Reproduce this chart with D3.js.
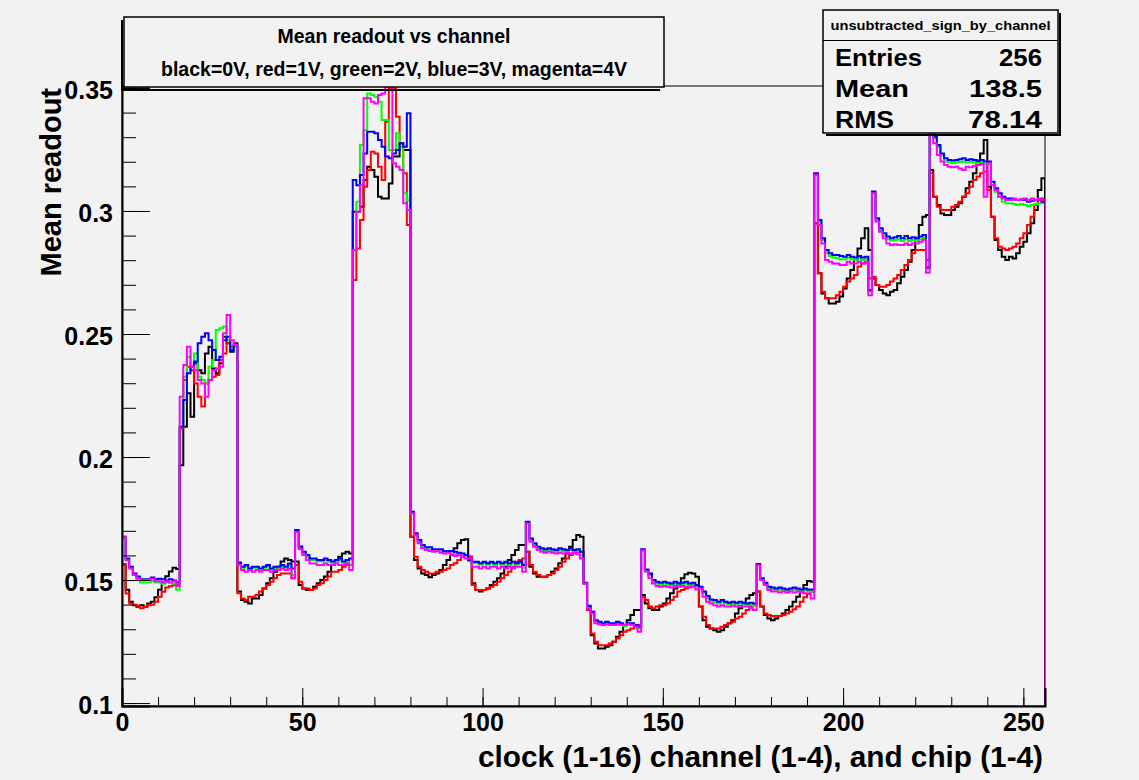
<!DOCTYPE html>
<html>
<head>
<meta charset="utf-8">
<script src="https://cdn.jsdelivr.net/npm/d3@7"></script>
<style>
  html, body { margin: 0; padding: 0; background: #f2f2f2; }
  svg text { font-family: "Liberation Sans", Arial, Helvetica, sans-serif; font-weight: bold; }
</style>
</head>
<body>
<div id="chart"></div>
<script>
// mean readout per bin (256 bins = 16 clocks x 4 channels x 4 chips), one array per voltage
const black = [
  0.1564,0.1460,0.1412,0.1398,0.1391,0.1398,0.1391,0.1405,0.1412,0.1430,0.1460,0.1490,0.1515,0.1535,0.1550,0.1545,
  0.1967,0.2123,0.2259,0.2164,0.2381,0.2353,0.2340,0.2421,0.2448,0.2360,0.2340,0.2381,0.2489,0.2462,0.2428,0.2462,
  0.1453,0.1419,0.1412,0.1405,0.1425,0.1425,0.1439,0.1466,0.1487,0.1507,0.1534,0.1554,0.1575,0.1588,0.1581,0.1575,
  0.1575,0.1480,0.1466,0.1459,0.1459,0.1473,0.1487,0.1500,0.1514,0.1534,0.1561,0.1575,0.1595,0.1608,0.1615,0.1608,
  0.2997,0.2997,0.3017,0.3126,0.3180,0.3167,0.3139,0.3058,0.3051,0.3051,0.3112,0.3221,0.3221,0.3275,0.3248,0.3248,
  0.1676,0.1581,0.1547,0.1527,0.1520,0.1511,0.1520,0.1527,0.1541,0.1561,0.1581,0.1602,0.1629,0.1649,0.1663,0.1666,
  0.1595,0.1487,0.1459,0.1453,0.1459,0.1466,0.1480,0.1493,0.1507,0.1527,0.1554,0.1581,0.1602,0.1622,0.1642,0.1642,
  0.1615,0.1554,0.1527,0.1513,0.1513,0.1513,0.1520,0.1534,0.1547,0.1568,0.1588,0.1608,0.1635,0.1663,0.1683,0.1676,
  0.1486,0.1378,0.1276,0.1242,0.1222,0.1222,0.1229,0.1235,0.1249,0.1269,0.1290,0.1317,0.1337,0.1358,0.1378,0.1378,
  0.1439,0.1405,0.1385,0.1378,0.1378,0.1392,0.1405,0.1425,0.1446,0.1466,0.1486,0.1507,0.1523,0.1530,0.1527,0.1513,
  0.1392,0.1337,0.1310,0.1303,0.1296,0.1290,0.1296,0.1310,0.1324,0.1337,0.1364,0.1385,0.1405,0.1425,0.1439,0.1446,
  0.1453,0.1392,0.1358,0.1344,0.1337,0.1344,0.1354,0.1364,0.1378,0.1392,0.1412,0.1432,0.1453,0.1480,0.1496,0.1493,
  0.2950,0.2747,0.2665,0.2645,0.2624,0.2624,0.2631,0.2652,0.2685,0.2726,0.2760,0.2801,0.2848,0.2889,0.2930,0.2841,
  0.2726,0.2699,0.2679,0.2665,0.2658,0.2672,0.2679,0.2706,0.2733,0.2760,0.2794,0.2841,0.2889,0.2943,0.2977,0.2984,
  0.3167,0.3058,0.3024,0.2990,0.2984,0.2984,0.3004,0.3017,0.3031,0.3058,0.3092,0.3119,0.3153,0.3201,0.3234,0.3289,
  0.3099,0.2977,0.2882,0.2841,0.2814,0.2801,0.2814,0.2807,0.2828,0.2855,0.2875,0.2909,0.2950,0.3004,0.3085,0.3133
];
const red = [
  0.1564,0.1445,0.1405,0.1400,0.1395,0.1385,0.1390,0.1398,0.1400,0.1412,0.1432,0.1452,0.1470,0.1475,0.1480,0.1480,
  0.2116,0.2313,0.2367,0.2353,0.2299,0.2245,0.2205,0.2299,0.2313,0.2326,0.2333,0.2394,0.2421,0.2462,0.2448,0.2448,
  0.1446,0.1425,0.1419,0.1432,0.1432,0.1439,0.1453,0.1466,0.1480,0.1493,0.1507,0.1520,0.1527,0.1527,0.1527,0.1507,
  0.1561,0.1493,0.1466,0.1466,0.1459,0.1466,0.1480,0.1487,0.1500,0.1514,0.1534,0.1534,0.1541,0.1554,0.1561,0.1561,
  0.2719,0.2848,0.2963,0.3099,0.3167,0.3241,0.3234,0.3180,0.3126,0.3363,0.3498,0.3498,0.3383,0.3275,0.3153,0.2943,
  0.1676,0.1595,0.1554,0.1541,0.1534,0.1527,0.1527,0.1534,0.1534,0.1541,0.1547,0.1561,0.1568,0.1581,0.1595,0.1602,
  0.1595,0.1480,0.1459,0.1459,0.1459,0.1466,0.1473,0.1480,0.1493,0.1507,0.1520,0.1534,0.1554,0.1574,0.1581,0.1588,
  0.1615,0.1561,0.1534,0.1520,0.1513,0.1513,0.1520,0.1527,0.1541,0.1554,0.1574,0.1588,0.1602,0.1608,0.1615,0.1615,
  0.1486,0.1378,0.1283,0.1249,0.1235,0.1235,0.1235,0.1242,0.1249,0.1262,0.1276,0.1290,0.1296,0.1303,0.1310,0.1317,
  0.1432,0.1419,0.1392,0.1385,0.1392,0.1398,0.1398,0.1405,0.1419,0.1432,0.1453,0.1459,0.1466,0.1476,0.1476,0.1473,
  0.1392,0.1351,0.1317,0.1303,0.1303,0.1303,0.1310,0.1317,0.1324,0.1330,0.1344,0.1351,0.1364,0.1378,0.1392,0.1398,
  0.1453,0.1392,0.1364,0.1358,0.1354,0.1354,0.1354,0.1358,0.1364,0.1371,0.1381,0.1392,0.1412,0.1430,0.1443,0.1453,
  0.2950,0.2747,0.2672,0.2645,0.2645,0.2645,0.2658,0.2672,0.2692,0.2713,0.2726,0.2740,0.2774,0.2787,0.2790,0.2726,
  0.2733,0.2699,0.2692,0.2692,0.2699,0.2713,0.2726,0.2740,0.2760,0.2780,0.2801,0.2828,0.2841,0.2841,0.2841,0.2801,
  0.3153,0.3058,0.3017,0.3004,0.3004,0.3004,0.3017,0.3024,0.3038,0.3058,0.3072,0.3099,0.3126,0.3140,0.3153,0.3160,
  0.3085,0.2977,0.2889,0.2855,0.2848,0.2841,0.2848,0.2855,0.2868,0.2889,0.2909,0.2943,0.2977,0.3024,0.3045,0.3051
];
const green = [
  0.1670,0.1580,0.1550,0.1520,0.1505,0.1490,0.1490,0.1490,0.1495,0.1490,0.1490,0.1485,0.1490,0.1490,0.1485,0.1460,
  0.2123,0.2326,0.2408,0.2367,0.2421,0.2326,0.2313,0.2299,0.2367,0.2394,0.2516,0.2523,0.2530,0.2475,0.2435,0.2448,
  0.1567,0.1550,0.1556,0.1542,0.1550,0.1550,0.1542,0.1550,0.1556,0.1542,0.1550,0.1550,0.1556,0.1550,0.1560,0.1520,
  0.1695,0.1630,0.1610,0.1595,0.1580,0.1580,0.1575,0.1575,0.1580,0.1575,0.1570,0.1575,0.1580,0.1570,0.1575,0.1560,
  0.2841,0.3038,0.3268,0.3329,0.3478,0.3471,0.3464,0.3444,0.3370,0.3370,0.3248,0.3248,0.3316,0.3261,0.3072,0.3044,
  0.1770,0.1685,0.1656,0.1635,0.1625,0.1622,0.1618,0.1618,0.1615,0.1611,0.1611,0.1608,0.1605,0.1602,0.1598,0.1592,
  0.1576,0.1568,0.1568,0.1562,0.1568,0.1562,0.1568,0.1562,0.1568,0.1562,0.1568,0.1562,0.1568,0.1562,0.1568,0.1550,
  0.1733,0.1662,0.1642,0.1628,0.1622,0.1618,0.1622,0.1618,0.1615,0.1622,0.1618,0.1615,0.1622,0.1615,0.1618,0.1600,
  0.1486,0.1390,0.1366,0.1333,0.1326,0.1320,0.1326,0.1320,0.1320,0.1326,0.1320,0.1313,0.1320,0.1320,0.1313,0.1303,
  0.1620,0.1538,0.1520,0.1493,0.1486,0.1482,0.1486,0.1482,0.1480,0.1486,0.1480,0.1482,0.1486,0.1480,0.1482,0.1470,
  0.1470,0.1446,0.1426,0.1414,0.1410,0.1405,0.1410,0.1405,0.1402,0.1405,0.1402,0.1405,0.1402,0.1400,0.1400,0.1396,
  0.1562,0.1503,0.1484,0.1466,0.1462,0.1460,0.1460,0.1460,0.1456,0.1460,0.1462,0.1460,0.1456,0.1458,0.1455,0.1450,
  0.3150,0.2957,0.2882,0.2830,0.2817,0.2811,0.2808,0.2804,0.2804,0.2811,0.2804,0.2801,0.2808,0.2801,0.2804,0.2672,
  0.3072,0.2963,0.2920,0.2900,0.2885,0.2880,0.2882,0.2886,0.2878,0.2886,0.2878,0.2882,0.2878,0.2885,0.2890,0.2765,
  0.3390,0.3295,0.3260,0.3225,0.3201,0.3197,0.3194,0.3197,0.3199,0.3201,0.3197,0.3199,0.3197,0.3194,0.3197,0.3190,
  0.3190,0.3106,0.3078,0.3058,0.3038,0.3031,0.3031,0.3028,0.3024,0.3028,0.3024,0.3020,0.3024,0.3028,0.3031,0.3031
];
const blue = [
  0.1676,0.1588,0.1554,0.1527,0.1514,0.1503,0.1503,0.1503,0.1510,0.1503,0.1505,0.1503,0.1498,0.1503,0.1498,0.1490,
  0.2123,0.2232,0.2340,0.2367,0.2388,0.2462,0.2489,0.2503,0.2475,0.2435,0.2394,0.2408,0.2475,0.2489,0.2435,0.2455,
  0.1571,0.1554,0.1561,0.1547,0.1554,0.1554,0.1547,0.1554,0.1561,0.1547,0.1554,0.1554,0.1561,0.1554,0.1567,0.1547,
  0.1703,0.1636,0.1615,0.1602,0.1588,0.1588,0.1581,0.1581,0.1588,0.1581,0.1575,0.1581,0.1588,0.1575,0.1581,0.1588,
  0.3126,0.3105,0.3146,0.3234,0.3322,0.3322,0.3316,0.3289,0.3261,0.3221,0.3214,0.3234,0.3248,0.3275,0.3261,0.3397,
  0.1778,0.1690,0.1663,0.1642,0.1633,0.1633,0.1625,0.1625,0.1625,0.1618,0.1618,0.1618,0.1615,0.1611,0.1608,0.1602,
  0.1581,0.1574,0.1574,0.1568,0.1574,0.1568,0.1574,0.1568,0.1574,0.1568,0.1574,0.1568,0.1574,0.1568,0.1574,0.1561,
  0.1737,0.1669,0.1649,0.1635,0.1629,0.1625,0.1629,0.1625,0.1622,0.1629,0.1625,0.1622,0.1629,0.1622,0.1625,0.1615,
  0.1489,0.1395,0.1371,0.1337,0.1330,0.1324,0.1330,0.1324,0.1324,0.1330,0.1324,0.1317,0.1324,0.1324,0.1317,0.1310,
  0.1625,0.1543,0.1527,0.1500,0.1493,0.1489,0.1493,0.1489,0.1486,0.1493,0.1486,0.1489,0.1493,0.1486,0.1489,0.1480,
  0.1473,0.1453,0.1435,0.1421,0.1419,0.1412,0.1419,0.1412,0.1408,0.1412,0.1408,0.1412,0.1408,0.1405,0.1408,0.1405,
  0.1565,0.1507,0.1489,0.1473,0.1470,0.1466,0.1470,0.1466,0.1462,0.1466,0.1470,0.1466,0.1462,0.1466,0.1462,0.1462,
  0.3153,0.2963,0.2889,0.2841,0.2828,0.2821,0.2821,0.2817,0.2814,0.2821,0.2814,0.2811,0.2817,0.2811,0.2814,0.2679,
  0.3079,0.2970,0.2930,0.2909,0.2896,0.2889,0.2893,0.2898,0.2889,0.2898,0.2889,0.2893,0.2889,0.2896,0.2902,0.2771,
  0.3397,0.3302,0.3268,0.3234,0.3214,0.3207,0.3205,0.3207,0.3210,0.3214,0.3207,0.3210,0.3207,0.3205,0.3207,0.3201,
  0.3201,0.3119,0.3092,0.3072,0.3058,0.3051,0.3051,0.3047,0.3045,0.3047,0.3045,0.3038,0.3042,0.3045,0.3045,0.3038
];
const magenta = [
  0.1676,0.1580,0.1547,0.1520,0.1505,0.1500,0.1500,0.1500,0.1505,0.1495,0.1495,0.1490,0.1495,0.1490,0.1495,0.1475,
  0.2245,0.2374,0.2448,0.2367,0.2353,0.2313,0.2299,0.2245,0.2313,0.2353,0.2360,0.2367,0.2503,0.2577,0.2475,0.2455,
  0.1561,0.1541,0.1534,0.1541,0.1534,0.1541,0.1534,0.1541,0.1541,0.1534,0.1541,0.1541,0.1547,0.1541,0.1547,0.1507,
  0.1695,0.1625,0.1602,0.1581,0.1567,0.1567,0.1561,0.1561,0.1567,0.1561,0.1561,0.1567,0.1561,0.1561,0.1567,0.1541,
  0.2841,0.2997,0.3105,0.3458,0.3458,0.3444,0.3437,0.3471,0.3478,0.3505,0.3505,0.3194,0.3180,0.3167,0.3031,0.3004,
  0.1770,0.1683,0.1649,0.1629,0.1622,0.1618,0.1615,0.1618,0.1611,0.1608,0.1611,0.1602,0.1598,0.1602,0.1595,0.1588,
  0.1588,0.1554,0.1554,0.1547,0.1554,0.1547,0.1554,0.1554,0.1547,0.1554,0.1547,0.1554,0.1547,0.1554,0.1554,0.1534,
  0.1730,0.1656,0.1635,0.1622,0.1615,0.1611,0.1615,0.1611,0.1608,0.1611,0.1608,0.1611,0.1608,0.1611,0.1605,0.1588,
  0.1486,0.1385,0.1364,0.1324,0.1320,0.1317,0.1320,0.1317,0.1317,0.1320,0.1317,0.1317,0.1320,0.1317,0.1310,0.1290,
  0.1620,0.1535,0.1507,0.1486,0.1476,0.1473,0.1476,0.1473,0.1470,0.1476,0.1473,0.1476,0.1473,0.1470,0.1473,0.1462,
  0.1466,0.1432,0.1412,0.1405,0.1398,0.1392,0.1398,0.1392,0.1392,0.1395,0.1392,0.1395,0.1392,0.1392,0.1385,0.1378,
  0.1560,0.1500,0.1480,0.1459,0.1453,0.1453,0.1449,0.1453,0.1449,0.1453,0.1449,0.1453,0.1449,0.1446,0.1446,0.1425,
  0.3146,0.2943,0.2868,0.2801,0.2794,0.2787,0.2787,0.2780,0.2780,0.2794,0.2787,0.2787,0.2794,0.2787,0.2794,0.2658,
  0.3072,0.2957,0.2916,0.2889,0.2868,0.2862,0.2865,0.2862,0.2862,0.2868,0.2862,0.2868,0.2868,0.2875,0.2882,0.2749,
  0.3377,0.3275,0.3228,0.3201,0.3187,0.3180,0.3178,0.3180,0.3173,0.3167,0.3180,0.3178,0.3183,0.3187,0.3191,0.3058,
  0.3194,0.3106,0.3085,0.3058,0.3051,0.3045,0.3045,0.3051,0.3045,0.3047,0.3051,0.3045,0.3051,0.3045,0.3051,0.3045
];

// drawn in this order, magenta ends up on top
const seriesNames = ["black", "red", "green", "blue", "magenta"];
const seriesColors = ["#000000", "#ff0000", "#00ff00", "#0000ff", "#ff00ff"];
const seriesValues = [black, red, green, blue, magenta];

const xTicks = [0, 50, 100, 150, 200, 250];
const yTicks = [0.1, 0.15, 0.2, 0.25, 0.3, 0.35];

const titleLines = ["Mean readout vs channel", "black=0V, red=1V, green=2V, blue=3V, magenta=4V"];
const statsName = "unsubtracted_sign_by_channel";
const statsRows = [["Entries", "256"], ["Mean", "138.5"], ["RMS", "78.14"]];

const width = 1139;
const height = 780;
const frame = { left: 122, right: 1045, top: 86, bottom: 706 };

const svg = d3.select("#chart")
  .append("svg")
  .attr("width", width)
  .attr("height", height);

svg.append("rect")
  .attr("width", width)
  .attr("height", height)
  .attr("fill", "#f2f2f2");

const xScale = d3.scaleLinear()
  .domain([0, 256])
  .range([frame.left, frame.right]);

const yScale = d3.scaleLinear()
  .domain([0.0988, 0.3508])
  .range([frame.bottom, frame.top]);

svg.append("clipPath")
  .attr("id", "frame-clip")
  .append("rect")
  .attr("x", frame.left)
  .attr("y", frame.top)
  .attr("width", frame.right - frame.left)
  .attr("height", frame.bottom - frame.top);

// histogram outline: start and end on the bottom of the frame, like ROOT does
function histPoints(values) {
  const pts = [[0, yScale.domain()[0]]];
  values.forEach((v, i) => {
    pts.push([i, v]);
    pts.push([i + 1, v]);
  });
  pts.push([values.length, yScale.domain()[0]]);
  return pts;
}

const line = d3.line()
  .x(d => xScale(d[0]))
  .y(d => yScale(d[1]));

const plot = svg.append("g").attr("clip-path", "url(#frame-clip)");

seriesValues.forEach((vals, k) => {
  plot.append("path")
    .datum(histPoints(vals))
    .attr("class", "hist " + seriesNames[k])
    .attr("d", line)
    .attr("fill", "none")
    .attr("stroke", seriesColors[k])
    .attr("stroke-width", 2)
    .attr("stroke-linejoin", "miter");
});

// frame
svg.append("rect")
  .attr("x", frame.left)
  .attr("y", frame.top)
  .attr("width", frame.right - frame.left)
  .attr("height", frame.bottom - frame.top)
  .attr("fill", "none")
  .attr("stroke", "#000")
  .attr("stroke-width", 1);

// y axis, ticks inside the frame
const yMinor = d3.range(10, 36).map(d => d / 100);
svg.append("g")
  .attr("transform", `translate(${frame.left},0)`)
  .call(d3.axisLeft(yScale).tickValues(yMinor).tickSize(-14).tickFormat(""))
  .call(g => g.select(".domain").remove());

svg.append("g")
  .attr("class", "y axis")
  .attr("transform", `translate(${frame.left},0)`)
  .call(d3.axisLeft(yScale).tickValues(yTicks).tickSize(-28).tickPadding(9)
    .tickFormat(d => d3.format("")(+d.toFixed(2))))
  .call(g => g.select(".domain").attr("stroke-width", 2))
  .call(g => g.selectAll("text")
    .attr("dy", "0.42em")
    .attr("font-size", 25)
    .attr("fill", "#000"));

// x axis
const xMinor = d3.range(0, 257, 10);
svg.append("g")
  .attr("transform", `translate(0,${frame.bottom})`)
  .call(d3.axisBottom(xScale).tickValues(xMinor).tickSize(-9).tickFormat(""))
  .call(g => g.select(".domain").remove());

svg.append("g")
  .attr("class", "x axis")
  .attr("transform", `translate(0,${frame.bottom})`)
  .call(d3.axisBottom(xScale).tickValues(xTicks).tickSize(-18).tickPadding(7))
  .call(g => g.select(".domain").attr("stroke-width", 2))
  .call(g => g.selectAll("text")
    .attr("font-size", 25)
    .attr("fill", "#000"));

svg.selectAll(".tick line").attr("stroke", "#000");

// axis titles
svg.append("text")
  .attr("x", 1043)
  .attr("y", 767)
  .attr("text-anchor", "end")
  .attr("font-size", 29)
  .attr("textLength", 565)
  .attr("lengthAdjust", "spacingAndGlyphs")
  .text("clock (1-16) channel (1-4), and chip (1-4)");

svg.append("text")
  .attr("transform", "translate(61,88) rotate(-90)")
  .attr("text-anchor", "end")
  .attr("font-size", 29)
  .text("Mean readout");

// title box
const tb = { x: 124, y: 17, w: 540, h: 70 };
svg.append("path")
  .attr("d", `M${tb.x - 2},${tb.y + 3}V${tb.y + tb.h + 3}H${tb.x + tb.w - 4}`)
  .attr("fill", "none")
  .attr("stroke", "#000")
  .attr("stroke-width", 2);
svg.append("rect")
  .attr("x", tb.x).attr("y", tb.y)
  .attr("width", tb.w).attr("height", tb.h)
  .attr("fill", "#f2f2f2")
  .attr("stroke", "#000")
  .attr("stroke-width", 1.5);
svg.selectAll(".title-line")
  .data(titleLines)
  .enter()
  .append("text")
  .attr("class", "title-line")
  .attr("x", tb.x + tb.w / 2)
  .attr("y", (d, i) => i === 0 ? 43 : 76)
  .attr("text-anchor", "middle")
  .attr("font-size", 19.5)
  .text(d => d);

// stats box
const sb = { x: 823, y: 10, w: 235, h: 123 };
svg.append("path")
  .attr("d", `M${sb.x + 3},${sb.y + sb.h + 2}H${sb.x + sb.w + 2}V${sb.y + 3}`)
  .attr("fill", "none")
  .attr("stroke", "#000")
  .attr("stroke-width", 2);
svg.append("rect")
  .attr("x", sb.x).attr("y", sb.y)
  .attr("width", sb.w).attr("height", sb.h)
  .attr("fill", "#f2f2f2")
  .attr("stroke", "#000")
  .attr("stroke-width", 1.5);
svg.append("line")
  .attr("x1", sb.x).attr("x2", sb.x + sb.w)
  .attr("y1", 40.5).attr("y2", 40.5)
  .attr("stroke", "#000")
  .attr("stroke-width", 1.2);
svg.append("text")
  .attr("x", sb.x + sb.w / 2)
  .attr("y", 30)
  .attr("text-anchor", "middle")
  .attr("font-size", 13.5)
  .attr("textLength", 220)
  .attr("lengthAdjust", "spacingAndGlyphs")
  .text(statsName);

const rowWidths = [[87, 43], [74, 73], [59, 74]];
statsRows.forEach((row, i) => {
  const y = 66 + i * 31;
  svg.append("text")
    .attr("x", 835)
    .attr("y", y)
    .attr("font-size", 24)
    .attr("textLength", rowWidths[i][0])
    .attr("lengthAdjust", "spacingAndGlyphs")
    .text(row[0]);
  svg.append("text")
    .attr("x", 1042)
    .attr("y", y)
    .attr("text-anchor", "end")
    .attr("font-size", 24)
    .attr("textLength", rowWidths[i][1])
    .attr("lengthAdjust", "spacingAndGlyphs")
    .text(row[1]);
});
</script>
</body>
</html>
